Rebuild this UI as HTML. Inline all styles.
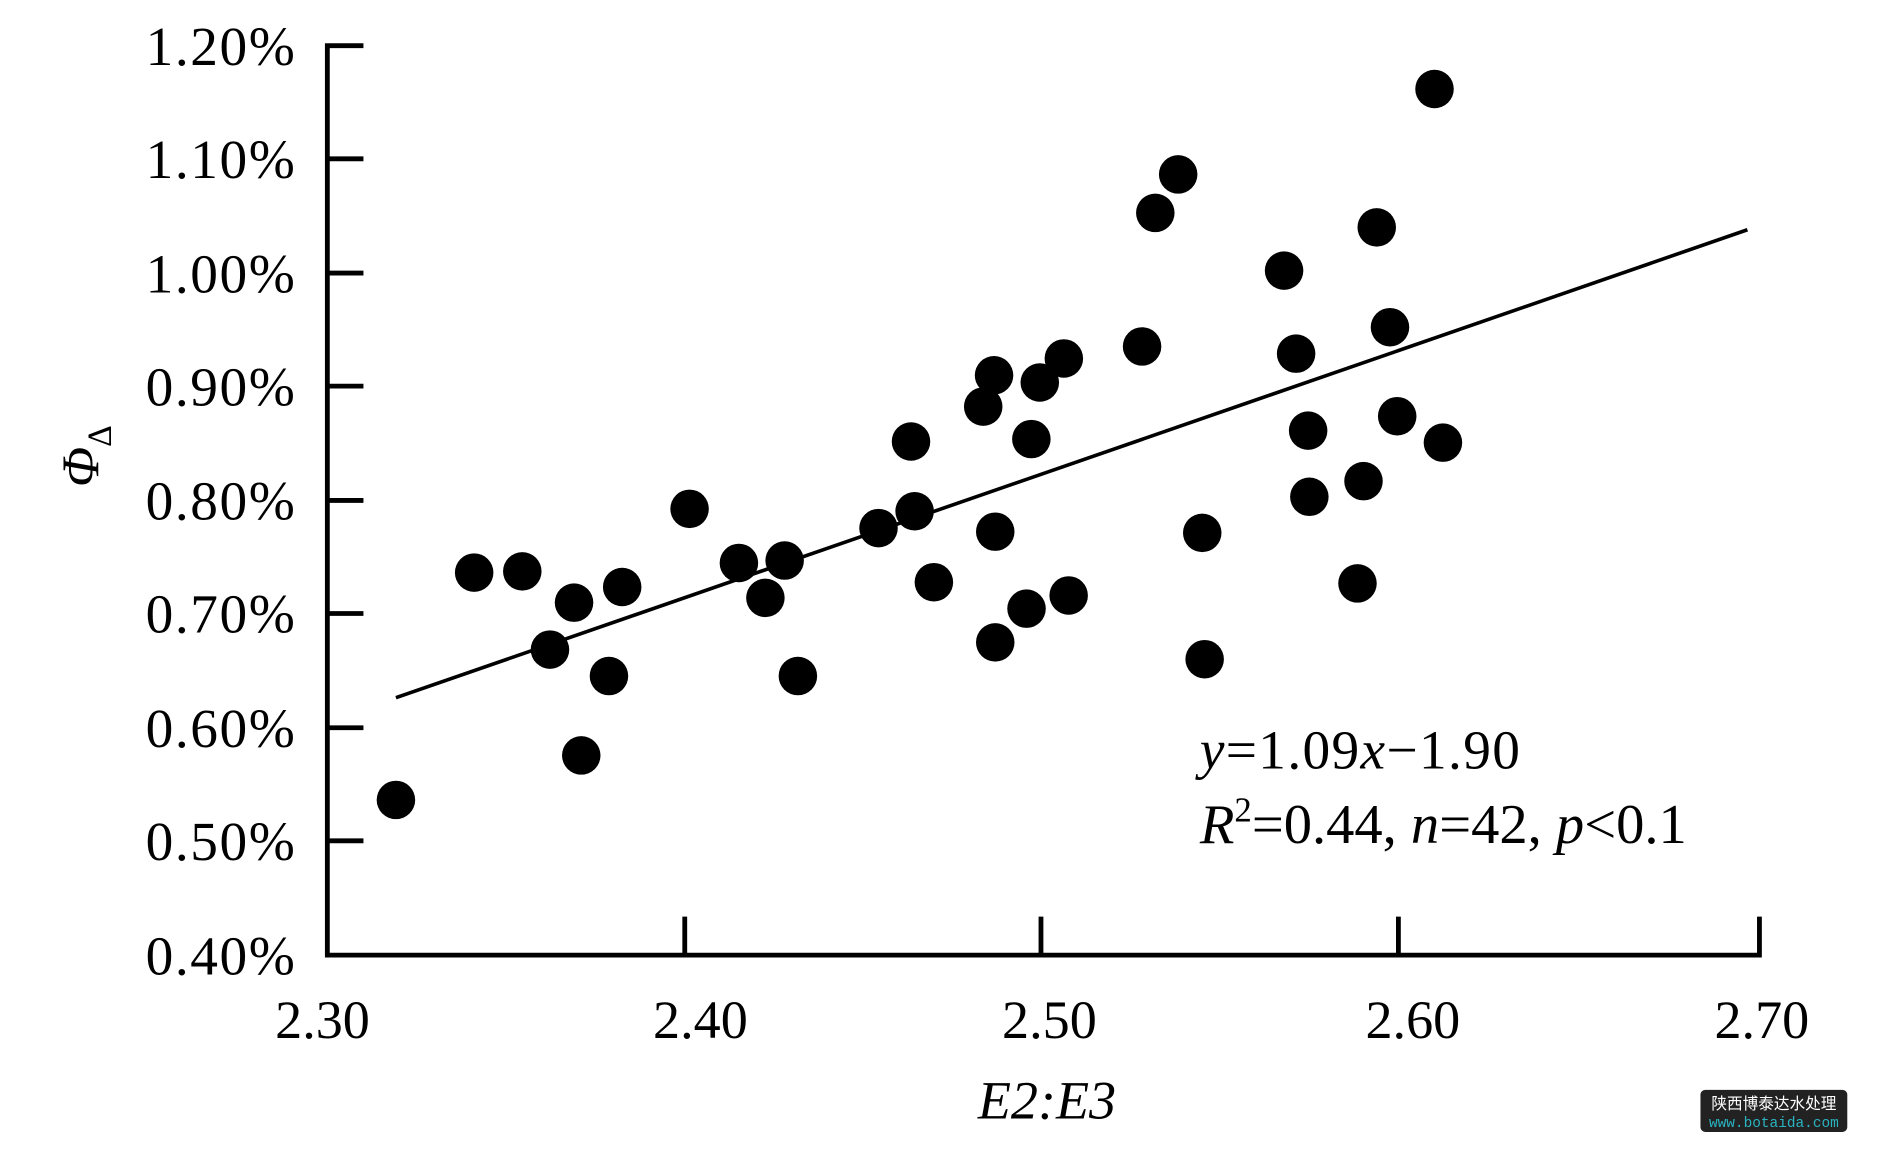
<!DOCTYPE html>
<html><head><meta charset="utf-8"><style>
html,body{margin:0;padding:0;background:#fff;overflow:hidden}
svg{display:block}
text{font-family:"Liberation Serif",serif;fill:#000}
</style></head><body>
<svg width="1887" height="1156" viewBox="0 0 1568 961" preserveAspectRatio="none" xmlns="http://www.w3.org/2000/svg">
<g stroke="#000" stroke-width="4" fill="none">
<polyline points="302,38 272,38 272,794 1462,794 1462,762"/>
<line x1="272" y1="132" x2="302" y2="132"/>
<line x1="272" y1="227" x2="302" y2="227"/>
<line x1="272" y1="321" x2="302" y2="321"/>
<line x1="272" y1="416" x2="302" y2="416"/>
<line x1="272" y1="510" x2="302" y2="510"/>
<line x1="272" y1="605" x2="302" y2="605"/>
<line x1="272" y1="699" x2="302" y2="699"/>
<line x1="569" y1="794" x2="569" y2="762"/>
<line x1="865" y1="794" x2="865" y2="762"/>
<line x1="1162" y1="794" x2="1162" y2="762"/>
</g>
<g font-size="46" text-anchor="end">
<text x="245" y="54" textLength="124">1.20%</text>
<text x="245" y="148" textLength="124">1.10%</text>
<text x="245" y="243" textLength="124">1.00%</text>
<text x="245" y="337" textLength="124">0.90%</text>
<text x="245" y="432" textLength="124">0.80%</text>
<text x="245" y="526" textLength="124">0.70%</text>
<text x="245" y="621" textLength="124">0.60%</text>
<text x="245" y="715" textLength="124">0.50%</text>
<text x="245" y="810" textLength="124">0.40%</text>
</g>
<g font-size="45" text-anchor="middle">
<text x="268" y="863">2.30</text>
<text x="582" y="863">2.40</text>
<text x="872" y="863">2.50</text>
<text x="1174" y="863">2.60</text>
<text x="1464" y="863">2.70</text>
<text x="870" y="930" font-style="italic">E2:E3</text>
</g>
<text transform="translate(82,405) rotate(-90)" font-size="44" font-style="italic">Φ<tspan font-size="28" dy="10" font-style="normal">Δ</tspan></text>
<line x1="329" y1="580" x2="1452" y2="191" stroke="#000" stroke-width="3"/>
<g fill="#000">
<circle cx="329" cy="665" r="16"/><circle cx="394" cy="476" r="16"/><circle cx="434" cy="475" r="16"/><circle cx="457" cy="540" r="16"/><circle cx="477" cy="501" r="16"/><circle cx="483" cy="628" r="16"/><circle cx="506" cy="562" r="16"/><circle cx="517" cy="488" r="16"/><circle cx="573" cy="423" r="16"/><circle cx="614" cy="468" r="16"/><circle cx="636" cy="497" r="16"/><circle cx="652" cy="466" r="16"/><circle cx="663" cy="562" r="16"/><circle cx="730" cy="439" r="16"/><circle cx="757" cy="367" r="16"/><circle cx="760" cy="425" r="16"/><circle cx="776" cy="484" r="16"/><circle cx="817" cy="338" r="16"/><circle cx="826" cy="312" r="16"/><circle cx="827" cy="442" r="16"/><circle cx="827" cy="534" r="16"/><circle cx="853" cy="506" r="16"/><circle cx="857" cy="365" r="16"/><circle cx="864" cy="318" r="16"/><circle cx="884" cy="298" r="16"/><circle cx="888" cy="495" r="16"/><circle cx="949" cy="288" r="16"/><circle cx="960" cy="177" r="16"/><circle cx="979" cy="145" r="16"/><circle cx="999" cy="443" r="16"/><circle cx="1001" cy="548" r="16"/><circle cx="1067" cy="225" r="16"/><circle cx="1077" cy="294" r="16"/><circle cx="1087" cy="358" r="16"/><circle cx="1088" cy="413" r="16"/><circle cx="1128" cy="485" r="16"/><circle cx="1133" cy="400" r="16"/><circle cx="1144" cy="189" r="16"/><circle cx="1155" cy="272" r="16"/><circle cx="1161" cy="346" r="16"/><circle cx="1192" cy="74" r="16"/><circle cx="1199" cy="368" r="16"/>
</g>
<g font-size="46">
<text x="997" y="639" textLength="266"><tspan font-style="italic">y</tspan>=1.09<tspan font-style="italic">x</tspan>−1.90</text>
<text x="997" y="701" font-size="47"><tspan font-style="italic">R</tspan><tspan font-size="29" dy="-18">2</tspan><tspan dy="18">=0.44, </tspan><tspan font-style="italic">n</tspan>=42, <tspan font-style="italic">p</tspan>&lt;0.1</text>
</g>
<rect x="1413" y="906" width="122" height="35" rx="4" fill="#222"/>
<text x="1474" y="922" font-size="13" text-anchor="middle" style="font-family:'Noto Sans CJK SC',sans-serif;fill:#fff">陕西博泰达水处理</text>
<text x="1474" y="937" font-size="12" text-anchor="middle" style="font-family:'Liberation Mono',monospace;fill:#2ab3c0">www.botaida.com</text>
</svg>
</body></html>
